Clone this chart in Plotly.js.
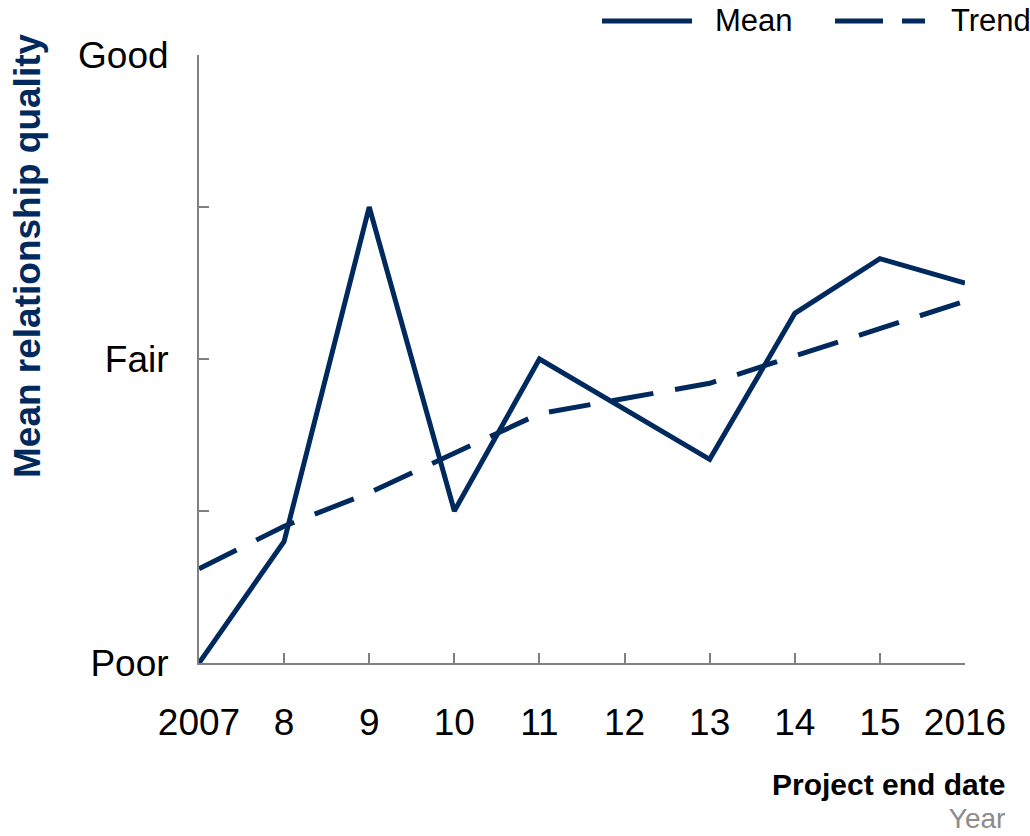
<!DOCTYPE html>
<html>
<head>
<meta charset="utf-8">
<script src="https://cdn.plot.ly/plotly-3.0.1.min.js"></script>
<style>html,body{margin:0;padding:0;background:#fff;}#chart{width:1030px;height:836px;}</style>
</head>
<body>
<div id="chart"></div>
<script>
// Data
const meanYears = [2007, 2008, 2009, 2010, 2011, 2013, 2014, 2015, 2016];
const meanValues = [1.00, 1.40, 2.50, 1.50, 2.00, 1.67, 2.15, 2.33, 2.25];
const trendYears = [2007, 2008, 2009, 2010, 2011, 2012, 2013, 2014, 2015, 2016];
const trendValues = [1.31, 1.45, 1.56, 1.69, 1.82, 1.87, 1.92, 2.01, 2.10, 2.19];
const xTickVals = [2007, 2008, 2009, 2010, 2011, 2012, 2013, 2014, 2015, 2016];
const xTickText = ["2007", "8", "9", "10", "11", "12", "13", "14", "15", "2016"];
const yTickVals = [1, 1.5, 2, 2.5, 3];
const yTickText = ["Poor", "", "Fair", "", "Good"];

const NAVY = "#00295e";
const GRAY = "#808080";
const FONT = "Arial, 'Liberation Sans', sans-serif";

const traces = [
  {x: meanYears, y: meanValues, mode: "lines", name: "Mean",
   line: {color: NAVY, width: 5}, showlegend: false},
  {x: trendYears, y: trendValues, mode: "lines", name: "Trend",
   line: {color: NAVY, width: 5, dash: "42px,22px"}, showlegend: false}
];

const W = 1030, H = 836, L = 199, R = 65, T = 55, B = 173;
const pw = W - L - R, ph = H - T - B;
const px = v => (v - L) / pw;      // pixel -> paper x
const py = v => (H - B - v) / ph;  // pixel -> paper y

const layout = {
  width: W, height: H,
  margin: {l: L, r: R, t: T, b: B, pad: 0},
  paper_bgcolor: "#ffffff", plot_bgcolor: "#ffffff",
  font: {family: FONT, color: "#000000"},
  showlegend: false,
  xaxis: {
    range: [2007, 2016], tickvals: xTickVals, ticktext: xTickText,
    showgrid: false, zeroline: false, showline: true, linecolor: GRAY, linewidth: 2,
    ticks: "inside", ticklen: 10, tickwidth: 2, tickcolor: GRAY,
    tickfont: {size: 37, family: FONT, color: "#000"}, ticklabelstandoff: 26,
    fixedrange: true
  },
  yaxis: {
    range: [1, 3], tickvals: yTickVals, ticktext: yTickText,
    showgrid: false, zeroline: false, showline: true, linecolor: GRAY, linewidth: 2,
    ticks: "inside", ticklen: 10, tickwidth: 2, tickcolor: GRAY,
    tickfont: {size: 37, family: FONT, color: "#000"}, ticklabelstandoff: 21,
    fixedrange: true
  },
  shapes: [
    {type: "line", xref: "paper", yref: "paper", x0: px(602), x1: px(692), y0: py(21), y1: py(21),
     line: {color: NAVY, width: 5}},
    {type: "line", xref: "paper", yref: "paper", x0: px(835), x1: px(925), y0: py(21), y1: py(21),
     line: {color: NAVY, width: 5, dash: "48px,19px"}}
  ],
  annotations: [
    {text: "Mean", xref: "paper", yref: "paper", x: px(713), y: py(21), xanchor: "left", yanchor: "middle",
     showarrow: false, font: {size: 31, family: FONT, color: "#000"}},
    {text: "Trend", xref: "paper", yref: "paper", x: px(949), y: py(21), xanchor: "left", yanchor: "middle",
     showarrow: false, font: {size: 31, family: FONT, color: "#000"}},
    {text: "<b>Mean relationship quality</b>", xref: "paper", yref: "paper", x: px(28), y: py(256),
     xanchor: "center", yanchor: "middle", textangle: -90, showarrow: false,
     font: {size: 37, family: FONT, color: NAVY}},
    {text: "<span style='font-size:30px'><b>Project end date</b></span><br><span style='font-size:28px;color:#8c8c8c'>Year</span>",
     xref: "paper", yref: "paper", x: px(1007), y: py(801),
     xanchor: "right", yanchor: "middle", align: "right", showarrow: false,
     font: {size: 25, family: FONT, color: "#000"}}
  ]
};

Plotly.newPlot("chart", traces, layout, {displayModeBar: false, staticPlot: true});
</script>
</body>
</html>
